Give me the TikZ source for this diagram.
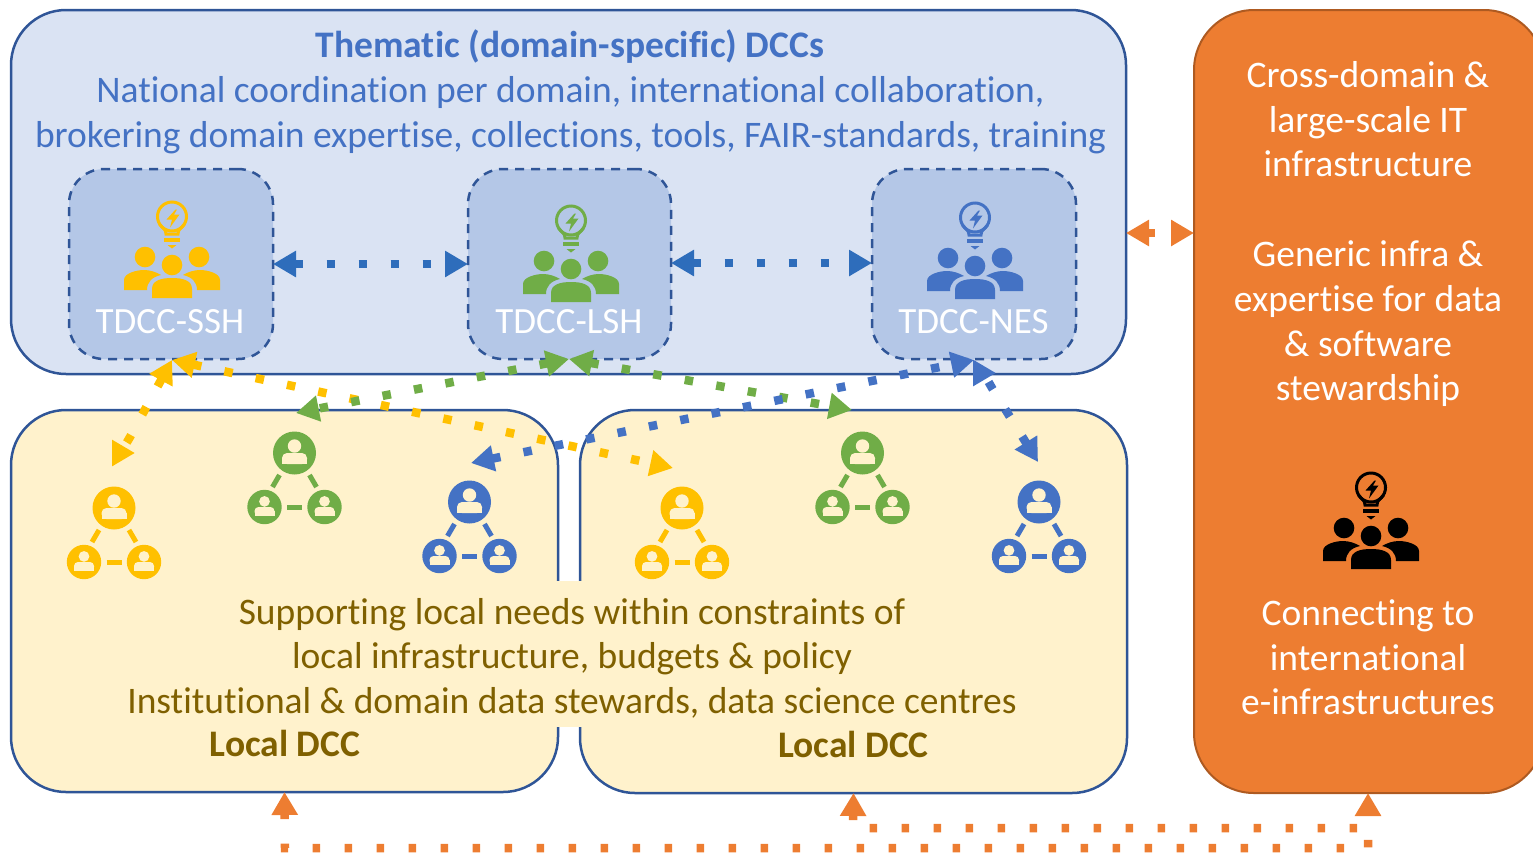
\documentclass[tikz,border=0pt]{standalone}
\usepackage{fontspec}
\setmainfont{Carlito}[Ligatures=NoCommon]
\usetikzlibrary{arrows.meta}
\definecolor{edgeblue}{HTML}{2F5597}
\definecolor{topfill}{HTML}{DAE3F3}
\definecolor{tdfill}{HTML}{B4C7E7}
\definecolor{cream}{HTML}{FFF2CC}
\definecolor{orangeb}{HTML}{ED7D31}
\definecolor{orangeedge}{HTML}{AE5A21}
\definecolor{gold}{HTML}{FFC000}
\definecolor{leaf}{HTML}{70AD47}
\definecolor{azure}{HTML}{4472C4}
\definecolor{midblue}{HTML}{2E6DBB}
\definecolor{olive}{HTML}{7F6000}
\tikzset{
  x=1pt,y=-1pt,
  bigbox/.style={draw=edgeblue,line width=2.5pt,inner sep=0pt,outer sep=0pt},
  tdbox/.style={draw=edgeblue,fill=tdfill,line width=2.5pt,dash pattern=on 9pt off 7pt,rounded corners=35pt,inner sep=0pt,outer sep=0pt,minimum width=204pt,minimum height=190pt},
  txt/.style={anchor=base,inner sep=0pt,font=\fontsize{37.5}{38}\selectfont},
  tdlabel/.style={txt,text=white,font=\fontsize{37}{38}\selectfont},
  dbl/.style={line width=8.5pt,dash pattern=on 8.5pt off 23.5pt,{Triangle[length=23pt,width=25pt]}-{Triangle[length=23pt,width=25pt]}},
  single/.style={line width=8.5pt,dash pattern=on 8.5pt off 23.5pt,{Triangle[length=23pt,width=25pt]}-},
  pics/groupicon/.style={code={
    \fill[#1] (0,0) circle[radius=10.3pt];
    \fill[#1] (-27,-8) circle[radius=10.3pt];
    \fill[#1] (27,-8) circle[radius=10.3pt];
    \fill[#1] (-20,33) -- (-20,24) .. controls (-20,15) and (-10,13) .. (0,13) .. controls (10,13) and (20,15) .. (20,24) -- (20,33) -- cycle;
    \fill[#1] (-48,25) -- (-48,15) .. controls (-48,8) and (-35,5) .. (-28,5) .. controls (-22,5) and (-16,7) .. (-11,10) .. controls (-20,12) and (-25,17) .. (-25,25) -- cycle;
    \fill[#1] (48,25) -- (48,15) .. controls (48,8) and (35,5) .. (28,5) .. controls (22,5) and (16,7) .. (11,10) .. controls (20,12) and (25,17) .. (25,25) -- cycle;
    \draw[#1,line width=3pt] (0,-48.5) circle[radius=14.5pt];
    \draw[#1,line width=3pt] (-12.5,-41) .. controls (-9,-36) and (-6,-36) .. (-6,-31) -- (6,-31) .. controls (6,-36) and (9,-36) .. (12.5,-41);
    \fill[#1] (-8,-27) rectangle (8,-23.5);
    \fill[#1] (-4.5,-20) -- (4.5,-20) -- (0,-16.5) -- cycle;
    \fill[#1] (3.5,-55.5) -- (-5.5,-45.5) -- (0,-45.5) -- (-2,-37.5) -- (7.5,-50.5) -- (2,-50.5) -- (5,-55.5) -- cycle;
  }},
  pics/person/.style 2 args={code={
    \fill[#1] (0,0) circle[radius=#2*21.5pt];
    \fill[cream] (0,-#2*7) circle[radius=#2*6.7pt];
    \fill[cream,rounded corners=#2*5pt] (-#2*12.5,#2*11) -- (-#2*12.5,#2*0) -- (#2*12.5,#2*0) -- (#2*12.5,#2*11) -- cycle;
    \fill[cream] (-#2*12.5,#2*5) rectangle (#2*12.5,#2*11);
  }},
  pics/neticon/.style={code={
    \pic at (0,0) {person={#1}{1}};
    \pic at (-30,54) {person={#1}{0.8}};
    \pic at (30,54) {person={#1}{0.8}};
    \draw[#1,line width=5pt] (-7.5,54) -- (7.5,54);
    \draw[#1,line width=5pt] (-15,22) -- (-22,34);
    \draw[#1,line width=5pt] (15,22) -- (22,34);
  }},
}
\begin{document}
\begin{tikzpicture}
\clip (0,0) rectangle (1533,855);
\useasboundingbox (0,0) rectangle (1533,855);
% panels
\node[bigbox,fill=topfill,rounded corners=55pt,minimum width=1115pt,minimum height=364pt] (top) at (568.5,192) {};
\node[bigbox,fill=cream,rounded corners=55pt,minimum width=547pt,minimum height=382pt] (localA) at (284.5,601) {};
\node[bigbox,fill=cream,rounded corners=55pt,minimum width=547pt,minimum height=383pt] (localB) at (853.5,601.5) {};
\node[fill=cream,inner sep=0pt,minimum width=900pt,minimum height=146pt] (textband) at (569,654) {};
\node[draw=orangeedge,fill=orangeb,line width=2pt,rounded corners=60pt,inner sep=0pt,outer sep=0pt,minimum width=350pt,minimum height=783pt] (cross) at (1369,401.5) {};
\node[tdbox] (ssh) at (171,264) {};
\node[tdbox,minimum width=203pt] (lsh) at (569.5,264) {};
\node[tdbox] (nes) at (974,264) {};
% top text
\node[txt,text=azure,font=\fontsize{37.5}{38}\selectfont\bfseries] (t1) at (570,57) {Thematic (domain-specific) DCCs};
\node[txt,text=azure] (t2) at (570.5,102) {National coordination per domain, international collaboration,};
\node[txt,text=azure] (t3) at (570.5,147) {brokering domain expertise, collections, tools, FAIR-standards, training};
\node[tdlabel] (l1) at (170,333.5) {TDCC-SSH};
\node[tdlabel] (l2) at (569,333.5) {TDCC-LSH};
\node[tdlabel] (l3) at (973.5,333.5) {TDCC-NES};
% local text
\node[txt,text=olive] (b1) at (572,624) {Supporting local needs within constraints of};
\node[txt,text=olive] (b2) at (572,668) {local infrastructure, budgets \& policy};
\node[txt,text=olive] (b3) at (572,713) {Institutional \& domain data stewards, data science centres};
\node[txt,text=olive,font=\fontsize{37.5}{38}\selectfont\bfseries] (b4) at (285,756) {Local DCC};
\node[txt,text=olive,font=\fontsize{37.5}{38}\selectfont\bfseries] (b5) at (853.5,757) {Local DCC};
% right text
\node[txt,text=white] (r1) at (1368,87) {Cross-domain \&};
\node[txt,text=white] (r2) at (1368,132) {large-scale IT};
\node[txt,text=white] (r3) at (1368,176) {infrastructure};
\node[txt,text=white] (r4) at (1368,266) {Generic infra \&};
\node[txt,text=white] (r5) at (1368,311) {expertise for data};
\node[txt,text=white] (r6) at (1368,356) {\& software};
\node[txt,text=white] (r7) at (1368,400) {stewardship};
\node[txt,text=white] (r8) at (1368,625) {Connecting to};
\node[txt,text=white] (r9) at (1368,670) {international};
\node[txt,text=white] (r10) at (1368,714) {e-infrastructures};
% icons
\pic at (172,265) {groupicon=gold};
\pic at (571,269) {groupicon=leaf};
\pic at (975,266) {groupicon=azure};
\pic at (1371,536) {groupicon=black};
\pic at (114,508) {neticon=gold};
\pic at (294.5,453) {neticon=leaf};
\pic at (469.5,502) {neticon=azure};
\pic at (682,508) {neticon=gold};
\pic at (862.5,453) {neticon=leaf};
\pic at (1039,502) {neticon=azure};
% connector ends
\coordinate (yTop) at (172,360);
\coordinate (yBendA) at (130,437);
\coordinate (yA) at (135,453);
\coordinate (yB) at (673,468);
\coordinate (gTop) at (569,359);
\coordinate (gA) at (296,413);
\coordinate (gB) at (852,410);
\coordinate (bTop) at (974,360);
\coordinate (bA) at (471,463);
\coordinate (nTop) at (996,373);
\coordinate (nBend) at (992,388);
\coordinate (nB) at (1038,462);
% connectors
\draw[dbl,midblue] (ssh.east) -- (lsh.west);
\draw[dbl,midblue] ([yshift=1pt]lsh.east) -- ([yshift=1pt]nes.west);
\draw[dbl,gold] (yTop) -- (yB);
\draw[dbl,gold] (yTop) -- (yBendA) .. controls (122,451) and (120,453) .. (yA);
\draw[dbl,leaf] (gTop) -- (gA);
\draw[dbl,leaf] (gTop) -- (gB);
\draw[dbl,azure] (bA) -- (bTop);
\draw[dbl,azure] (nB) -- (nBend) .. controls (985,376) and (985,373) .. (nTop);
\draw[dbl,orangeb,dash pattern=on 7.5pt off 24pt] (top.east |- 0,233) -- (cross.west |- 0,233);
% bottom orange
\coordinate (oA) at (localA.south);
\coordinate (oB) at (localB.south);
\coordinate (oC) at (1368,793);
\coordinate (oAd) at (285,848);
\coordinate (oCd) at (1368,848);
\coordinate (oBd) at (853,828);
\coordinate (oCm) at (1368,828);
\draw[dbl,orangeb,dash pattern=on 7.5pt off 24.5pt,dash phase=2pt] (oA) -- (oAd) -- (oCd) -- (oC);
\draw[single,orangeb,dash pattern=on 7.5pt off 24.5pt,dash phase=2pt] (oB) -- (oBd) -- (oCm);
\end{tikzpicture}
\end{document}
